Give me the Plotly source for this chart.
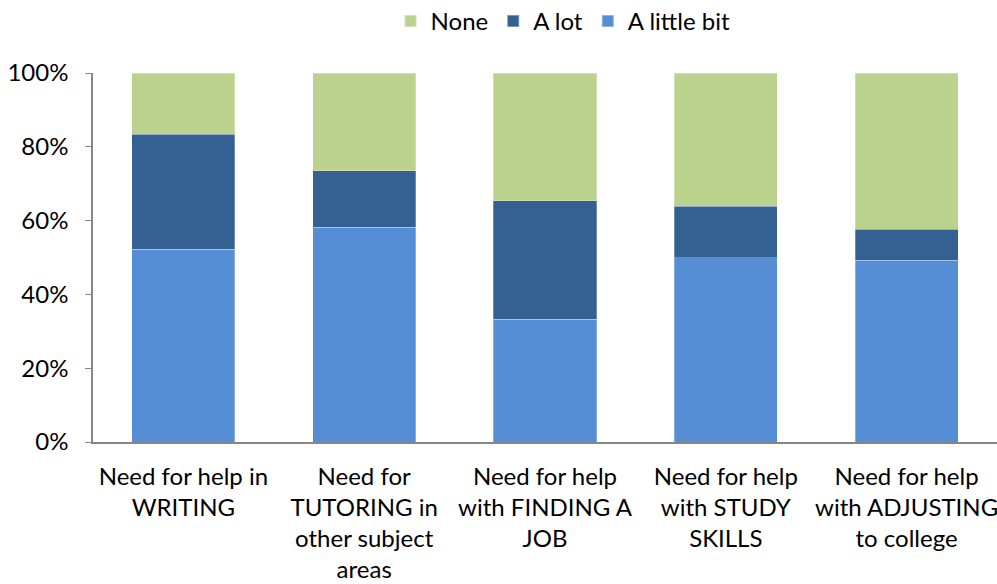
import plotly.graph_objects as go

categories = [
    "Need for help in<br>WRITING",
    "Need for<br>TUTORING in<br>other subject<br>areas",
    "Need for help<br>with FINDING A<br>JOB",
    "Need for help<br>with STUDY<br>SKILLS",
    "Need for help<br>with ADJUSTING<br>to college",
]
a_little_bit = [52.2, 58.2, 33.2, 49.9, 49.2]
a_lot = [31.2, 15.3, 32.2, 14.0, 8.4]
none = [16.6, 26.5, 34.6, 36.1, 42.4]

series = [
    ("A little bit", a_little_bit, "#558ED5"),
    ("A lot", a_lot, "#356092"),
    ("None", none, "#BBD18E"),
]

fig = go.Figure()
for name, vals, color in series:
    fig.add_trace(go.Bar(
        x=categories, y=vals, name=name,
        marker=dict(color=color, line=dict(color="rgba(255,255,255,0.35)", width=0.8)),
    ))

font_family = "Lato, 'Open Sans', sans-serif"
fig.update_layout(
    barmode="stack",
    bargap=0.43,
    width=997, height=584,
    margin=dict(l=93, r=0, t=73, b=142, autoexpand=False),
    paper_bgcolor="white",
    plot_bgcolor="white",
    font=dict(family=font_family, size=24, color="#000000"),
    legend=dict(
        orientation="h", x=0.52, xanchor="center", y=1.14, yanchor="middle",
        traceorder="reversed", font=dict(size=24),
        itemwidth=30, itemsizing="constant", tracegroupgap=0,
    ),
    showlegend=True,
)
fig.update_yaxes(
    range=[0, 100], tickvals=[0, 20, 40, 60, 80, 100],
    ticktext=["0%", "20%", "40%", "60%", "80%", "100%"],
    showgrid=False, zeroline=False,
    showline=True, linecolor="#868686", linewidth=1.5,
    ticks="outside", ticklen=6, tickcolor="#868686",
    ticklabelstandoff=12,
)
fig.update_xaxes(
    showgrid=False, showline=True, linecolor="#868686", linewidth=1.5,
    ticks="", ticklabelstandoff=12, tickangle=0,
    tickfont=dict(size=24),
)

fig.write_html("out.html")
